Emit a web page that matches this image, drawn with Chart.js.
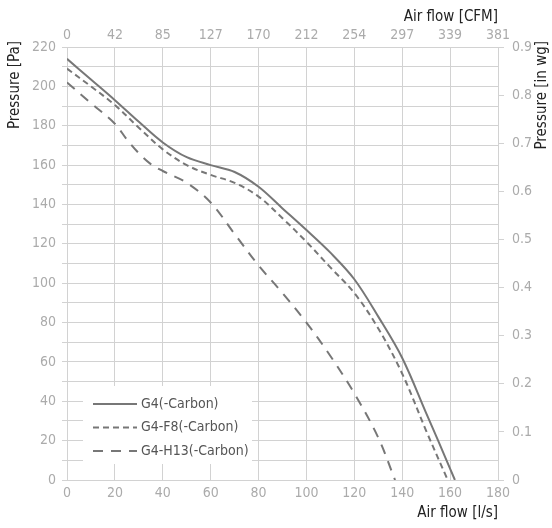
<!DOCTYPE html>
<html>
<head>
<meta charset="utf-8">
<script src="https://cdn.jsdelivr.net/npm/chart.js@4"></script>
<style>
html,body{margin:0;padding:0;background:#ffffff;}
#wrap{width:552px;height:528px;}
</style>
</head>
<body>
<div id="wrap"><canvas id="c" width="552" height="528"></canvas></div>
<script>
// ---- data (l/s vs Pa) ----
const flowG4  = [0, 10, 20, 30, 40, 50, 60, 70, 80, 90, 100, 110, 120, 130, 140, 150, 155, 162];
const paG4    = [214, 203.5, 193, 182, 171.5, 164, 160, 156.5, 149, 138, 127, 115.5, 102, 83, 62, 34, 20, 0];

const flowF8  = [0, 10, 20, 30, 40, 50, 60, 70, 80, 90, 100, 110, 120, 130, 140, 150, 159];
const paF8    = [209, 200, 190.5, 179, 168, 160, 155, 151, 144, 133, 121, 108, 95, 77, 54, 25, 0];

const flowH13 = [0, 10, 20, 25, 30, 35, 40, 50, 60, 70, 80, 90, 100, 110, 120, 130, 137];
const paH13   = [202, 191.5, 181, 173, 166, 160.5, 157, 151, 141, 125, 109, 95, 80, 63, 44, 21.5, 0];

const seriesNames = ['G4(-Carbon)', 'G4-F8(-Carbon)', 'G4-H13(-Carbon)'];

// ---- tick labels ----
const cfmLabels  = ['0', '42', '85', '127', '170', '212', '254', '297', '339', '381'];
const inwgLabels = ['0', '0.1', '0.2', '0.3', '0.4', '0.5', '0.6', '0.7', '0.8', '0.9'];

const FONT = "'Liberation Sans Narrow', 'DejaVu Sans Condensed', 'Roboto', sans-serif";
const lineColor = '#777777';
const gridColor = '#d2d2d2';
const tickColor = '#ababab';
const titleColor = '#222222';

function pts(xs, ys) { return xs.map((x, i) => ({ x: x, y: ys[i] })); }

const legendPlugin = {
  id: 'customLegend',
  afterDatasetsDraw(chart) {
    const ctx = chart.ctx;
    const ca = chart.chartArea;
    const x0 = ca.left + 16, y0 = ca.bottom - 94, w = 169, h = 78;
    ctx.save();
    ctx.fillStyle = '#ffffff';
    ctx.fillRect(x0, y0, w, h);
    chart.data.datasets.forEach((ds, i) => {
      const y = y0 + 18 + i * 23.5;
      ctx.strokeStyle = ds.borderColor;
      ctx.lineWidth = ds.borderWidth;
      ctx.setLineDash(ds.borderDash || []);
      ctx.beginPath();
      ctx.moveTo(x0 + 10, y);
      ctx.lineTo(x0 + 54, y);
      ctx.stroke();
      ctx.setLineDash([]);
      ctx.fillStyle = '#555555';
      ctx.font = "14px " + FONT;
      ctx.textAlign = 'left';
      ctx.textBaseline = 'middle';
      ctx.fillText(ds.label, x0 + 58, y);
    });
    ctx.restore();
  },
  afterDraw(chart) {
    const ctx = chart.ctx;
    ctx.save();
    ctx.fillStyle = titleColor;
    ctx.font = "15px " + FONT;
    ctx.textBaseline = 'middle';
    ctx.textAlign = 'right';
    ctx.save();
    ctx.translate(15, 41);
    ctx.rotate(-Math.PI / 2);
    ctx.fillText('Pressure [Pa]', 0, 0);
    ctx.restore();
    ctx.save();
    ctx.translate(542, 41);
    ctx.rotate(-Math.PI / 2);
    ctx.fillText('Pressure [in wg]', 0, 0);
    ctx.restore();
    ctx.restore();
  }
};

const common = { pointRadius: 0, tension: 0.35, fill: false, borderWidth: 2, borderColor: lineColor, xAxisID: 'x', yAxisID: 'y' };

new Chart(document.getElementById('c'), {
  type: 'line',
  data: {
    datasets: [
      Object.assign({ label: seriesNames[0], data: pts(flowG4, paG4), borderDash: [] }, common),
      Object.assign({ label: seriesNames[1], data: pts(flowF8, paF8), borderDash: [6, 4] }, common),
      Object.assign({ label: seriesNames[2], data: pts(flowH13, paH13), borderDash: [10, 8] }, common)
    ]
  },
  options: {
    responsive: false,
    animation: false,
    devicePixelRatio: 1,
    layout: { padding: 0 },
    plugins: { legend: { display: false }, tooltip: { enabled: false } },
    scales: {
      x: {
        type: 'linear', position: 'bottom', min: 0, max: 180,
        ticks: { stepSize: 20, color: tickColor, font: { family: FONT, size: 14 }, padding: 5, maxRotation: 0, autoSkip: false },
        grid: { color: gridColor, lineWidth: 1, drawTicks: false },
        border: { color: gridColor },
        title: { display: true, text: 'Air flow [l/s]', align: 'end', color: titleColor, font: { family: FONT, size: 15 }, padding: { top: 0, bottom: 6 } },
        afterFit(s) { s.height = 48; }
      },
      x2: {
        type: 'linear', position: 'top', min: 0, max: 180,
        ticks: { stepSize: 20, color: tickColor, font: { family: FONT, size: 14 }, padding: 3, maxRotation: 0, autoSkip: false,
                 callback: (v, i) => cfmLabels[i] },
        grid: { drawOnChartArea: false, drawTicks: false },
        border: { color: gridColor },
        title: { display: true, text: 'Air flow [CFM]', align: 'end', color: titleColor, font: { family: FONT, size: 15 }, padding: { top: 8, bottom: 0 } },
        afterFit(s) { s.height = 47; }
      },
      y: {
        type: 'linear', position: 'left', min: 0, max: 220,
        ticks: { stepSize: 10, color: tickColor, font: { family: FONT, size: 14 }, padding: 6, autoSkip: false,
                 callback: (v) => (v % 20 === 0 ? String(v) : '') },
        grid: { color: gridColor, lineWidth: 1, drawTicks: true, tickLength: 5 },
        border: { color: gridColor },
        afterFit(s) { s.width = 67; }
      },
      y2: {
        type: 'linear', position: 'right', min: 0, max: 0.9,
        ticks: { stepSize: 0.1, color: tickColor, font: { family: FONT, size: 14 }, padding: 8, autoSkip: false,
                 callback: (v, i) => inwgLabels[i] },
        grid: { drawOnChartArea: false, color: gridColor, drawTicks: true, tickLength: 6 },
        border: { color: gridColor },
        afterFit(s) { s.width = 54; }
      }
    }
  },
  plugins: [legendPlugin]
});
</script>
</body>
</html>
